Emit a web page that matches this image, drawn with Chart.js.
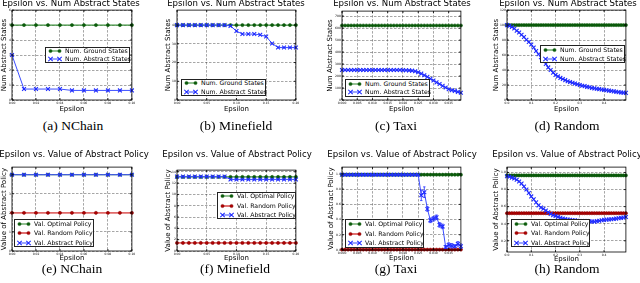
<!DOCTYPE html>
<html><head><meta charset="utf-8">
<script src="https://cdn.jsdelivr.net/npm/chart.js@4.4.1/dist/chart.umd.min.js"></script>
<style>
html,body{margin:0;padding:0;background:#fff;}
#wrap{position:relative;width:640px;height:283px;overflow:hidden;background:#fff;}
canvas{position:absolute;}
.ttl{position:absolute;width:240px;text-align:center;font:8.6px/1 'DejaVu Sans',sans-serif;color:#000;white-space:nowrap;}
.cap{position:absolute;width:160px;text-align:center;font:13.5px/1 'Liberation Serif',serif;color:#000;white-space:nowrap;}
.leg{position:absolute;background:#fff;border:0.8px solid #222;box-sizing:border-box;}
.leg .row{position:absolute;left:0;height:8px;width:100%;}
.leg svg{position:absolute;left:2px;top:0;}
.leg span{position:absolute;left:19px;top:0;font:6.2px/8px 'DejaVu Sans',sans-serif;white-space:nowrap;color:#000;}
</style></head><body><div id="wrap"></div>
<script>
// ---------------- data ----------------
const epsA = [0,0.01,0.02,0.03,0.04,0.05,0.06,0.07,0.08,0.09,0.1];
const groundA = [5,5,5,5,5,5,5,5,5,5,5];
const abstractA = [3,0.73,0.73,0.73,0.73,0.64,0.64,0.64,0.64,0.64,0.64];
const xTicksA = [0,0.02,0.04,0.06,0.08,0.1];
const yTicksA = [0,1,2,3,4,5,6];

const epsB = [0,0.01,0.02,0.03,0.04,0.05,0.06,0.07,0.08,0.09,0.1,0.11,0.12,0.13,0.14,0.15,0.16,0.17,0.18,0.19,0.2];
const groundB = [40,40,40,40,40,40,40,40,40,40,40,40,40,40,40,40,40,40,40,40,40];
const abstractB = [40,40,40,40,40,40,40,40,40,39.5,36.8,35.2,35.2,35.2,34.8,33.9,30.2,28,28,28,28];
const xTicksB = [0,0.05,0.1,0.15,0.2];
const yTicksB = [0,10,20,30,40];

const epsC = [0,0.001,0.002,0.003,0.004,0.005,0.006,0.007,0.008,0.009,0.01,0.011,0.012,0.013,0.014,0.015,0.016,0.017,0.018,0.019,0.02,0.021,0.022,0.023,0.024,0.025,0.026,0.027,0.028,0.029,0.03,0.031,0.032,0.033,0.034,0.035,0.036,0.037,0.038,0.039];
const groundC = [622,622,622,622,622,622,622,622,622,622,622,622,622,622,622,622,622,622,622,622,622,622,622,622,622,622,622,622,622,622,622,622,622,622,622,622,622,622,622,622];
const abstractC = [250,250,250,250,250,250,250,250,250,250,250,250,250,250,250,250,250,250,250,250,249,248,247,245,240,232,220,207,193,178,163,147,133,118,104,90,82,76,68,60];
const xTicksC = [0,0.005,0.01,0.015,0.02,0.025,0.03,0.035];
const yTicksC = [0,100,200,300,400,500,600,700];

const epsD = [0,0.01,0.02,0.03,0.04,0.05,0.06,0.07,0.08,0.09,0.1,0.11,0.12,0.13,0.14,0.15,0.16,0.17,0.18,0.19,0.2,0.21,0.22,0.23,0.24,0.25,0.26,0.27,0.28,0.29,0.3,0.31,0.32,0.33,0.34,0.35,0.36,0.37,0.38,0.39,0.4,0.41,0.42,0.43,0.44,0.45,0.46,0.47,0.48,0.49];
const groundD = [100,100,100,100,100,100,100,100,100,100,100,100,100,100,100,100,100,100,100,100,100,100,100,100,100,100,100,100,100,100,100,100,100,100,100,100,100,100,100,100,100,100,100,100,100,100,100,100,100,100];
const abstractD = [100,99,97.5,95.5,92.5,90,87,84,80.5,77.5,74,70,65.5,61,57,52.5,48,43.5,40,36.5,33.5,31.5,29.5,28,26.5,25,24,23,22,21,20,19,18.5,17.5,17,16,15.5,15,14.5,14,13.5,13,12.5,12,11.5,11,10.5,10,9.8,9.5];
const xTicksD = [0,0.1,0.2,0.3,0.4];
const yTicksD = [0,20,40,60,80,100,120];

const epsE = [0,0.01,0.02,0.03,0.04,0.05,0.06,0.07,0.08,0.09,0.1];
const optimalE = [4,4,4,4,4,4,4,4,4,4,4];
const randomE = [2,2,2,2,2,2,2,2,2,2,2];
const abstractValE = [4,4,4,4,4,4,4,4,4,4,4];
const xTicksE = [0,0.02,0.04,0.06,0.08,0.1];
const yTicksE = [0,1,2,3,4];

const epsF = [0,0.01,0.02,0.03,0.04,0.05,0.06,0.07,0.08,0.09,0.1,0.11,0.12,0.13,0.14,0.15,0.16,0.17,0.18,0.19,0.2];
const optimalF = [13.1,13.1,13.1,13.1,13.1,13.1,13.1,13.1,13.1,13.1,13.1,13.1,13.1,13.1,13.1,13.1,13.1,13.1,13.1,13.1,13.1];
const randomF = [1.43,1.43,1.43,1.43,1.43,1.43,1.43,1.43,1.43,1.43,1.43,1.43,1.43,1.43,1.43,1.43,1.43,1.43,1.43,1.43,1.43];
const abstractValF = [13.15,13.15,13.15,13.15,13.15,13.15,13.15,13.15,13.15,12.65,12.65,12.65,12.65,12.65,12.65,12.65,12.65,12.65,12.65,12.65,12.65];
const xTicksF = [0,0.05,0.1,0.15,0.2];
const yTicksF = [0,2,4,6,8,10,12,14];

const epsG = [0,0.001,0.002,0.003,0.004,0.005,0.006,0.007,0.008,0.009,0.01,0.011,0.012,0.013,0.014,0.015,0.016,0.017,0.018,0.019,0.02,0.021,0.022,0.023,0.024,0.025,0.026,0.027,0.028,0.029,0.03,0.031,0.032,0.033,0.034,0.035,0.036,0.037,0.038,0.039];
const optimalG = [0.99,0.99,0.99,0.99,0.99,0.99,0.99,0.99,0.99,0.99,0.99,0.99,0.99,0.99,0.99,0.99,0.99,0.99,0.99,0.99,0.99,0.99,0.99,0.99,0.99,0.99,0.99,0.99,0.99,0.99,0.99,0.99,0.99,0.99,0.99,0.99,0.99,0.99,0.99,0.99];
const randomG = [0.005,0.005,0.005,0.005,0.005,0.005,0.005,0.005,0.005,0.005,0.005,0.005,0.005,0.005,0.005,0.005,0.005,0.005,0.005,0.005,0.005,0.005,0.005,0.005,0.005,0.005,0.005,0.005,0.005,0.005,0.005,0.005,0.005,0.005,0.005,0.005,0.005,0.005,0.005,0.005];
const abstractValG = [0.99,0.99,0.99,0.99,0.99,0.99,0.99,0.99,0.99,0.99,0.99,0.99,0.99,0.99,0.99,0.99,0.99,0.99,0.99,0.99,0.99,0.99,0.99,0.99,0.99,0.99,0.72,0.76,0.54,0.39,0.41,0.43,0.33,0.31,0.04,0.065,0.055,0.05,0.08,0.05];
const errG = [0,0,0,0,0,0,0,0,0,0,0,0,0,0,0,0,0,0,0,0,0,0,0,0,0,0,0.07,0.07,0.03,0.03,0.03,0.03,0.03,0.03,0.02,0.03,0.03,0.02,0.03,0.03];
const xTicksG = [0,0.005,0.01,0.015,0.02,0.025,0.03,0.035];
const yTicksG = [0,0.2,0.4,0.6,0.8,1.0];

const epsH = [0,0.01,0.02,0.03,0.04,0.05,0.06,0.07,0.08,0.09,0.1,0.11,0.12,0.13,0.14,0.15,0.16,0.17,0.18,0.19,0.2,0.21,0.22,0.23,0.24,0.25,0.26,0.27,0.28,0.29,0.3,0.31,0.32,0.33,0.34,0.35,0.36,0.37,0.38,0.39,0.4,0.41,0.42,0.43,0.44,0.45,0.46,0.47,0.48,0.49];
const optimalH = [0.966,0.966,0.966,0.966,0.966,0.966,0.966,0.966,0.966,0.966,0.966,0.966,0.966,0.966,0.966,0.966,0.966,0.966,0.966,0.966,0.966,0.966,0.966,0.966,0.966,0.966,0.966,0.966,0.966,0.966,0.966,0.966,0.966,0.966,0.966,0.966,0.966,0.966,0.966,0.966,0.966,0.966,0.966,0.966,0.966,0.966,0.966,0.966,0.966,0.966];
const randomH = [0.523,0.523,0.523,0.523,0.523,0.523,0.523,0.523,0.523,0.523,0.523,0.523,0.523,0.523,0.523,0.523,0.523,0.523,0.523,0.523,0.523,0.523,0.523,0.523,0.523,0.523,0.523,0.523,0.523,0.523,0.523,0.523,0.523,0.523,0.523,0.523,0.523,0.523,0.523,0.523,0.523,0.523,0.523,0.523,0.523,0.523,0.523,0.523,0.523,0.523];
const abstractValH = [0.955,0.95,0.94,0.93,0.915,0.895,0.87,0.835,0.8,0.76,0.72,0.685,0.65,0.615,0.59,0.575,0.555,0.535,0.515,0.5,0.49,0.48,0.47,0.462,0.455,0.45,0.445,0.44,0.44,0.435,0.432,0.43,0.43,0.43,0.428,0.426,0.425,0.43,0.435,0.44,0.445,0.448,0.45,0.453,0.456,0.46,0.465,0.468,0.472,0.478];
const xTicksH = [0,0.1,0.2,0.3,0.4];
const yTicksH = [0.2,0.4,0.6,0.8,1.0];

const TOP_TITLE = 'Epsilon vs. Num Abstract States';
const BOT_TITLE = 'Epsilon vs. Value of Abstract Policy';
const TOP_YLABEL = 'Num Abstract States';
const BOT_YLABEL = 'Value of Abstract Policy';
const XLABEL = 'Epsilon';

// ---------------- panels (layout) ----------------
const topSeries = (g, a) => [{label:'Num. Ground States', data:g, kind:'green'},{label:'Num. Abstract States', data:a, kind:'blue'}];
const botSeries = (o, r, a) => [{label:'Val. Optimal Policy', data:o, kind:'green'},{label:'Val. Random Policy', data:r, kind:'red'},{label:'Val. Abstract Policy', data:a, kind:'blue'}];

const T1 = -1.0, T2 = 150.0, C1 = 118.7, C2 = 262.2;
const panels = [
 {left:12, top:8, w:121, h:92, wy:12, hx:13, eps:epsA, series:topSeries(groundA,abstractA), xTicks:xTicksA, yTicks:yTicksA, xMin:0, xMax:0.1, yMin:0, yMax:6, xDec:2, yDec:0, yTitle:TOP_YLABEL, title:TOP_TITLE, titleTop:T1, titleX:71, caption:'(a) NChain', capX:73, capTop:C1, legend:{x:45,y:46.7,w:85,h:16.6}},
 {left:177, top:8, w:120, h:92, wy:13, hx:13, eps:epsB, series:topSeries(groundB,abstractB), xTicks:xTicksB, yTicks:yTicksB, xMin:0, xMax:0.2, yMin:0, yMax:48, xDec:2, yDec:0, yTitle:TOP_YLABEL, title:TOP_TITLE, titleTop:T1, titleX:236, caption:'(b) Minefield', capX:236, capTop:C1, legend:{x:181,y:79,w:85,h:16.5}},
 {left:342, top:9, w:120, h:91, wy:16, hx:13, eps:epsC, series:topSeries(groundC,abstractC), xTicks:xTicksC, yTicks:yTicksC, xMin:0, xMax:0.039, yMin:0, yMax:742, xDec:3, yDec:0, yTitle:TOP_YLABEL, title:TOP_TITLE, titleTop:T1, titleX:402, caption:'(c) Taxi', capX:396, capTop:C1, legend:{x:345,y:79,w:85,h:17.5}},
 {left:507, top:8, w:120, h:92, wy:15, hx:13, eps:epsD, series:topSeries(groundD,abstractD), xTicks:xTicksD, yTicks:yTicksD, xMin:0, xMax:0.49, yMin:0, yMax:120, xDec:1, yDec:0, yTitle:TOP_YLABEL, title:TOP_TITLE, titleTop:T1, titleX:568, caption:'(d) Random', capX:567, capTop:C1, legend:{x:540,y:45,w:85,h:18}},
 {left:12, top:165, w:121, h:86, wy:12, hx:11, eps:epsE, series:botSeries(optimalE,randomE,abstractValE), xTicks:xTicksE, yTicks:yTicksE, xMin:0, xMax:0.1, yMin:0, yMax:4.4, xDec:2, yDec:0, yTitle:BOT_YLABEL, title:BOT_TITLE, titleTop:T2, titleX:74, caption:'(e) NChain', capX:72, capTop:C2, legend:{x:14,y:219,w:80,h:28.3}},
 {left:177, top:168, w:120, h:83, wy:13, hx:11, eps:epsF, series:botSeries(optimalF,randomF,abstractValF), xTicks:xTicksF, yTicks:yTicksF, xMin:0, xMax:0.2, yMin:0, yMax:14.3, xDec:2, yDec:0, yTitle:BOT_YLABEL, title:BOT_TITLE, titleTop:T2, titleX:237, caption:'(f) Minefield', capX:235, capTop:C2, legend:{x:217,y:191.7,w:79,h:27.3}},
 {left:342, top:165, w:120, h:85, wy:15, hx:12, eps:epsG, series:botSeries(optimalG,randomG,abstractValG), err:errG, xTicks:xTicksG, yTicks:yTicksG, xMin:0, xMax:0.039, yMin:0, yMax:1.09, xDec:3, yDec:1, yTitle:BOT_YLABEL, title:BOT_TITLE, titleTop:T2, titleX:402, caption:'(g) Taxi', capX:396, capTop:C2, legend:{x:345,y:219,w:79,h:29}},
 {left:507, top:165, w:120, h:87, wy:15, hx:11, eps:epsH, series:botSeries(optimalH,randomH,abstractValH), xTicks:xTicksH, yTicks:yTicksH, xMin:0, xMax:0.49, yMin:0.069, yMax:1.063, xDec:1, yDec:1, yTitle:BOT_YLABEL, title:BOT_TITLE, titleTop:T2, titleX:567, caption:'(h) Random', capX:567, capTop:C2, legend:{x:511,y:219,w:79,h:28.3}}
];

const STYLE = {
  green:{borderColor:'#3d8f3d', borderWidth:1.1, pointStyle:'circle', pointRadius:1.6, pointBackgroundColor:'#0b5a0b', pointBorderColor:'#0b5a0b', pointBorderWidth:0.5, order:2},
  red:{borderColor:'#e06a6a', borderWidth:1.9, pointStyle:'circle', pointRadius:1.6, pointBackgroundColor:'#b00000', pointBorderColor:'#800000', pointBorderWidth:0.5, order:1},
  blue:{borderColor:'#3b4dff', borderWidth:1, pointStyle:'crossRot', pointRadius:2.7, pointBackgroundColor:'#1f2bff', pointBorderColor:'#1f2bff', pointBorderWidth:1.1, order:0}
};
const GRID = 'rgba(0,0,0,0.5)';
const FONT = "'DejaVu Sans', sans-serif";

const framePlugin = {
  id:'frame',
  afterDraw(chart){
    const {ctx, chartArea:a} = chart;
    const xs = chart.scales.x, ys = chart.scales.y;
    ctx.save();
    ctx.strokeStyle = '#000'; ctx.lineWidth = 0.8; ctx.setLineDash([]);
    ctx.strokeRect(a.left, a.top, a.right - a.left, a.bottom - a.top);
    ctx.beginPath();
    xs.ticks.forEach(t => { const px = xs.getPixelForValue(t.value);
      ctx.moveTo(px, a.bottom); ctx.lineTo(px, a.bottom - 2); ctx.moveTo(px, a.top); ctx.lineTo(px, a.top + 2); });
    ys.ticks.forEach(t => { const py = ys.getPixelForValue(t.value);
      ctx.moveTo(a.left, py); ctx.lineTo(a.left + 2, py); ctx.moveTo(a.right, py); ctx.lineTo(a.right - 2, py); });
    ctx.stroke();
    ctx.restore();
  }
};

function errPlugin(p){
  return {
    id:'errbars',
    afterDatasetsDraw(chart){
      if (!p.err) return;
      const idx = p.series.findIndex(s => s.kind === 'blue');
      const vals = p.series[idx].data;
      const xs = chart.scales.x, ys = chart.scales.y, ctx = chart.ctx;
      ctx.save(); ctx.strokeStyle = '#1f2bff'; ctx.lineWidth = 0.8; ctx.beginPath();
      p.err.forEach((e, j) => { if (!e) return;
        const px = xs.getPixelForValue(p.eps[j]);
        const y1 = ys.getPixelForValue(vals[j] - e), y2 = ys.getPixelForValue(vals[j] + e);
        ctx.moveTo(px, y1); ctx.lineTo(px, y2);
        ctx.moveTo(px - 1.2, y1); ctx.lineTo(px + 1.2, y1);
        ctx.moveTo(px - 1.2, y2); ctx.lineTo(px + 1.2, y2); });
      ctx.stroke(); ctx.restore();
    }
  };
}

function legendSample(kind){
  const s = STYLE[kind];
  let m = '';
  [2.5, 11.5].forEach(x => {
    if (kind === 'blue') m += `<path d="M${x-2.2},1.8 L${x+2.2},6.2 M${x-2.2},6.2 L${x+2.2},1.8" stroke="${s.pointBorderColor}" stroke-width="1.1"/>`;
    else m += `<circle cx="${x}" cy="4" r="1.6" fill="${s.pointBackgroundColor}" stroke="${s.pointBorderColor}" stroke-width="0.5"/>`;
  });
  return `<svg width="15" height="8" viewBox="0 0 15 8"><line x1="2.5" y1="4" x2="11.5" y2="4" stroke="${s.borderColor}" stroke-width="${s.borderWidth}"/>${m}</svg>`;
}

const wrap = document.getElementById('wrap');
const padT = 3, padR = 4;

panels.forEach(p => {
  const cv = document.createElement('canvas');
  cv.width = p.wy + p.w + padR; cv.height = padT + p.h + p.hx;
  cv.style.left = (p.left - p.wy) + 'px'; cv.style.top = (p.top - padT) + 'px';
  wrap.appendChild(cv);
  const datasets = p.series.map(s => Object.assign({label:s.label, data:p.eps.map((x, j) => ({x:x, y:s.data[j]})), fill:false, tension:0, clip:false}, STYLE[s.kind]));
  new Chart(cv, {
    type:'line',
    data:{datasets},
    options:{
      responsive:false, animation:false, devicePixelRatio:1,
      layout:{padding:{top:padT, right:padR, left:0, bottom:0}},
      plugins:{legend:{display:false}, tooltip:{enabled:false}, title:{display:false}},
      scales:{
        x:{type:'linear', min:p.xMin, max:p.xMax,
           afterBuildTicks: sc => { sc.ticks = p.xTicks.map(v => ({value:v})); },
           afterFit: sc => { sc.height = p.hx; sc.paddingLeft = 0; sc.paddingRight = 0; },
           grid:{color:GRID, lineWidth:0.7, drawTicks:false},
           border:{display:false, dash:[2.5,1.5]},
           ticks:{font:{size:3, family:FONT}, color:'#000', padding:1.5, maxRotation:0, minRotation:0, autoSkip:false, callback:v => Number(v).toFixed(p.xDec)},
           title:{display:true, text:XLABEL, font:{size:7, family:FONT}, color:'#000', padding:0}},
        y:{type:'linear', min:p.yMin, max:p.yMax,
           afterBuildTicks: sc => { sc.ticks = p.yTicks.map(v => ({value:v})); },
           afterFit: sc => { sc.width = p.wy; sc.paddingTop = 0; sc.paddingBottom = 0; },
           grid:{color:GRID, lineWidth:0.7, drawTicks:false},
           border:{display:false, dash:[2.5,1.5]},
           ticks:{font:{size:3, family:FONT}, color:'#000', padding:1.2, autoSkip:false, callback:v => Number(v).toFixed(p.yDec)},
           title:{display:true, text:p.yTitle, font:{size:7, family:FONT}, color:'#000', padding:0}}
      }
    },
    plugins:[framePlugin, errPlugin(p)]
  });

  const t = document.createElement('div');
  t.className = 'ttl'; t.textContent = p.title;
  t.style.left = (p.titleX - 120) + 'px'; t.style.top = p.titleTop + 'px';
  wrap.appendChild(t);

  const c = document.createElement('div');
  c.className = 'cap'; c.textContent = p.caption;
  c.style.left = (p.capX - 80) + 'px'; c.style.top = p.capTop + 'px';
  wrap.appendChild(c);

  const L = p.legend;
  const lg = document.createElement('div');
  lg.className = 'leg';
  lg.style.left = L.x + 'px'; lg.style.top = L.y + 'px'; lg.style.width = L.w + 'px'; lg.style.height = L.h + 'px';
  const n = p.series.length;
  p.series.forEach((s, i) => {
    const r = document.createElement('div'); r.className = 'row';
    r.style.top = ((i + 0.5) * L.h / n - 4 - 0.8) + 'px';
    r.innerHTML = legendSample(s.kind) + '<span></span>';
    r.querySelector('span').textContent = s.label;
    lg.appendChild(r);
  });
  wrap.appendChild(lg);
});
</script></body></html>
